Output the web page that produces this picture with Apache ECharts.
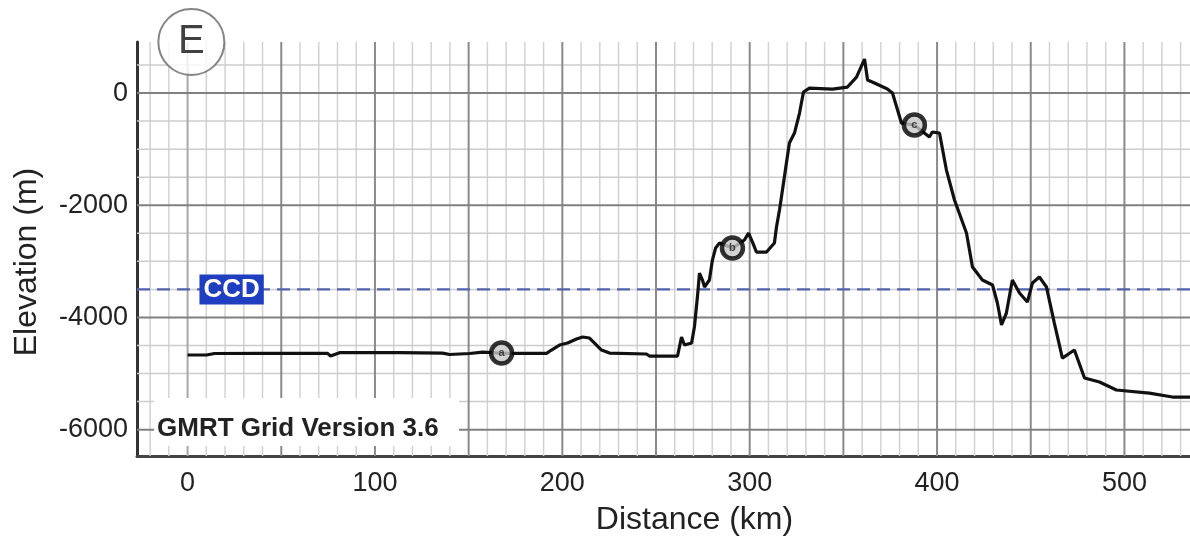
<!DOCTYPE html>
<html>
<head>
<meta charset="utf-8">
<script src="https://cdn.jsdelivr.net/npm/echarts@6/dist/echarts.min.js"></script>
<style>
html,body{margin:0;padding:0;background:#fff;}
#chart{width:1190px;height:542px;}
</style>
</head>
<body>
<div id="chart"></div>
<script>
// ---- data ----
const distanceKm = [0, 10.1, 14.4, 38.4, 74.7, 76.3, 81.1, 113.1, 136.1, 139.8, 150.5, 157.4, 167.6, 173.4, 191.6, 194.2, 198.5, 202.8, 207.6, 210.8, 214.5, 217.2, 220.9, 225.2, 244.9, 246.5, 261.5, 263.6, 265.2, 269, 270.5, 272.1, 273.2, 274.8, 275.9, 278.5, 280.1, 281.8, 283.9, 290.8, 297.2, 299.4, 301.5, 303.6, 309, 313.2, 314.3, 315.9, 317.5, 319.6, 321.2, 323.9, 326.6, 328.7, 331.9, 344.2, 352.2, 357, 361.3, 362.9, 366.6, 373.5, 376.2, 381, 387.9, 395.9, 397.5, 401.3, 405, 409.3, 415.7, 418.9, 424.2, 429.6, 432.2, 434.4, 437, 440.2, 444, 448.2, 450.9, 454.6, 458.4, 462.6, 466.9, 473.3, 478.7, 486.7, 495.7, 513.3, 525.6, 535];
const elevationM = [-4670, -4670, -4643, -4640, -4640, -4688, -4629, -4629, -4635, -4661, -4643, -4617, -4635, -4640, -4640, -4581, -4492, -4456, -4385, -4349, -4367, -4456, -4581, -4635, -4652, -4688, -4688, -4349, -4492, -4456, -4171, -3636, -3209, -3333, -3458, -3333, -2977, -2763, -2674, -2763, -2620, -2496, -2656, -2834, -2834, -2674, -2389, -2086, -1729, -1248, -891, -713, -357, 18, 89, 71, 107, 285, 606, 232, 178, 71, 0, -535, -570, -784, -695, -713, -1373, -1907, -2496, -3102, -3333, -3422, -3743, -4135, -3922, -3333, -3565, -3725, -3387, -3280, -3458, -4100, -4724, -4581, -5080, -5151, -5294, -5348, -5419, -5419];

const pointLetters = ['a', 'b', 'c'];
const pointKm = [167.6, 290.8, 387.9];
const pointM = [-4635, -2763, -570];

const ccdDepth = -3500;
const ccdLabel = 'CCD';

const xTickLabels = [0, 100, 200, 300, 400, 500];
const yTickLabels = [0, -2000, -4000, -6000];

const xMinorGrid = [];
for (let v = -20; v <= 530; v += 10) if (v % 50 !== 0) xMinorGrid.push(v);
const xMajorGrid = [50, 100, 150, 200, 250, 300, 350, 400, 450, 500];
const xZeroGrid = [0];
const yMinorGrid = [500, -500, -1000, -1500, -2500, -3000, -3500, -4500, -5000, -5500];
const yMajorGrid = [0, -2000, -4000, -6000];

const panelLabel = 'E';
const sourceNote = 'GMRT Grid Version 3.6';

// ---- chart ----
const FONT = '"Liberation Sans", Arial, sans-serif';
const chart = echarts.init(document.getElementById('chart'), null, {renderer: 'canvas'});

function vLines(values, color, width, z) {
  return {
    type: 'custom', silent: true, z: z, clip: false,
    data: values.map(v => [v, 0]),
    encode: {x: 0, y: 1},
    renderItem: function (params, api) {
      const cs = params.coordSys;
      const x = api.coord([api.value(0), api.value(1)])[0];
      return {type: 'line', shape: {x1: x, y1: cs.y, x2: x, y2: cs.y + cs.height},
        style: {stroke: color, lineWidth: width}};
    }
  };
}
function hLines(values, color, width, z) {
  return {
    type: 'custom', silent: true, z: z, clip: false,
    data: values.map(v => [0, v]),
    encode: {x: 0, y: 1},
    renderItem: function (params, api) {
      const cs = params.coordSys;
      const y = api.coord([api.value(0), api.value(1)])[1];
      return {type: 'line', shape: {x1: cs.x, y1: y, x2: cs.x + cs.width, y2: y},
        style: {stroke: color, lineWidth: width}};
    }
  };
}

const profile = distanceKm.map((d, i) => [d, elevationM[i]]);
const points = pointKm.map((d, i) => [d, pointM[i], pointLetters[i]]);

chart.setOption({
  animation: false,
  backgroundColor: '#ffffff',
  grid: {left: 137, right: 0, top: 42, bottom: 86, containLabel: false},
  xAxis: {
    type: 'value', min: -27, max: 535,
    name: 'Distance (km)', nameLocation: 'middle', nameGap: 48,
    nameTextStyle: {fontFamily: FONT, fontSize: 32, color: '#222', padding: [0, 0, 0, 62]},
    axisLine: {show: true, onZero: false, lineStyle: {color: '#444', width: 3}},
    axisTick: {show: false, customValues: xTickLabels},
    axisLabel: {customValues: xTickLabels, formatter: v => String(v), fontFamily: FONT, fontSize: 27, color: '#222', margin: 14},
    splitLine: {show: false}
  },
  yAxis: {
    type: 'value', min: -6470, max: 910,
    name: 'Elevation (m)', nameLocation: 'middle', nameGap: 94, nameRotate: 90,
    nameTextStyle: {fontFamily: FONT, fontSize: 32, color: '#222', padding: [0, 26, 0, 0]},
    axisLine: {show: true, onZero: false, lineStyle: {color: '#333', width: 3}},
    axisTick: {show: false, customValues: yTickLabels},
    axisLabel: {customValues: yTickLabels, formatter: v => String(v), fontFamily: FONT, fontSize: 27, color: '#222', margin: 9},
    splitLine: {show: false}
  },
  graphic: [
    {type: 'rect', z: 50, shape: {x: 154, y: 398, width: 305, height: 48}, style: {fill: '#ffffff'}},
    {type: 'text', z: 51, x: 157, y: 429,
      style: {text: sourceNote, font: 'bold 26px ' + FONT, fill: '#222', verticalAlign: 'middle', align: 'left'}}
  ],
  series: [
    vLines(xMinorGrid, '#d2d2d2', 1.5, 1),
    hLines(yMinorGrid, '#cccccc', 1.5, 1),
    vLines(xZeroGrid, '#a8a8a8', 2, 2),
    vLines(xMajorGrid, '#8a8a8a', 2, 2),
    hLines(yMajorGrid, '#808080', 2, 2),
    {
      type: 'line', name: 'CCD', z: 3, silent: true, symbol: 'none',
      data: [[-27, ccdDepth], [535, ccdDepth]],
      lineStyle: {color: '#5461ad', width: 2.2, type: [13, 7]},
      markPoint: {
        symbol: 'rect', symbolSize: 0, silent: true,
        data: [{coord: [23.5, ccdDepth]}],
        label: {show: true, position: 'inside', formatter: ccdLabel, fontFamily: FONT, fontWeight: 'bold',
          fontSize: 26, color: '#ffffff', backgroundColor: '#1f3fc0', padding: [3, 4, 1, 4]}
      }
    },
    {
      type: 'line', name: 'Elevation', z: 5, symbol: 'none', smooth: false,
      data: profile,
      lineStyle: {color: '#111111', width: 3.2}
    },
    {
      type: 'scatter', name: 'Sites', z: 6, symbol: 'circle', symbolSize: 21,
      data: points,
      itemStyle: {color: '#c8c8c8', borderColor: '#000', borderWidth: 4.5},
      label: {show: true, position: 'inside', formatter: p => p.value[2], fontFamily: FONT,
        fontSize: 11, fontWeight: 'bold', color: '#222'}
    },
    {
      type: 'scatter', name: 'Panel', z: 60, symbol: 'circle', symbolSize: 66, clip: false, silent: true,
      data: [[2, 910]],
      itemStyle: {color: '#ffffff', borderColor: '#666', borderWidth: 2},
      label: {show: true, position: 'inside', formatter: panelLabel, fontFamily: FONT, fontSize: 40, color: '#111'}
    }
  ]
});
</script>
</body>
</html>
